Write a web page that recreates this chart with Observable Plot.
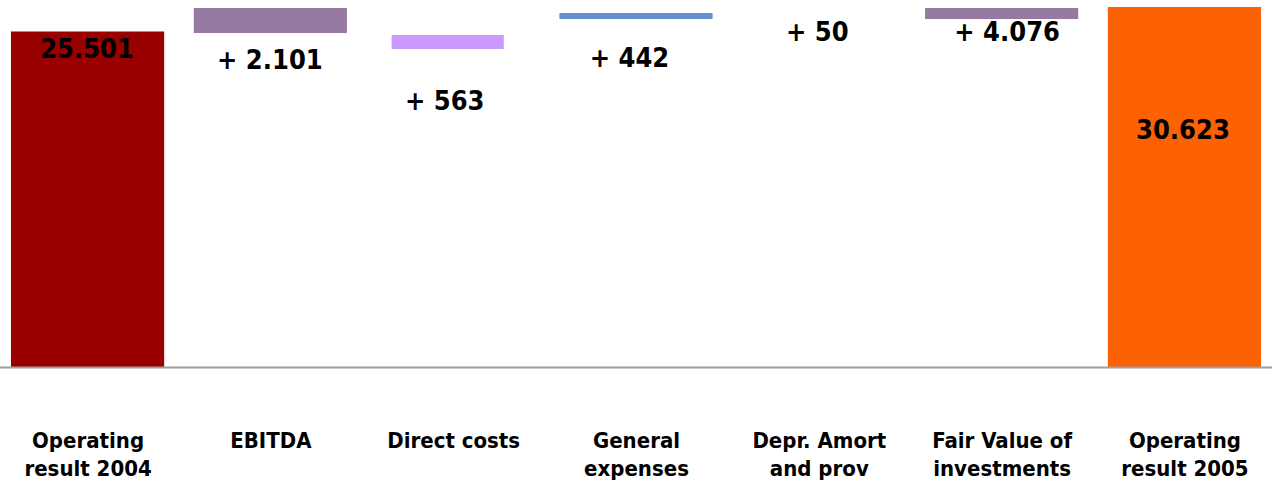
<!DOCTYPE html>
<html>
<head>
<meta charset="utf-8">
<script src="https://cdn.jsdelivr.net/npm/d3@7"></script>
<script src="https://cdn.jsdelivr.net/npm/@observablehq/plot@0.6"></script>
<style>
  html, body { margin: 0; padding: 0; background: #fff; }
  #chart svg { display: block; }
</style>
</head>
<body>
<div id="chart"></div>
<script>
// ---- data ----
const categories = ["Operating result 2004", "EBITDA", "Direct costs", "General expenses", "Depr. Amort and prov", "Fair Value of investments", "Operating result 2005"];
const tickLabels = ["Operating\nresult 2004", "EBITDA", "Direct costs", "General\nexpenses", "Depr. Amort\nand prov", "Fair Value of\ninvestments", "Operating\nresult 2005"];
const barStart = [0, 28410, 27050, 29600, null, 29600, 0];
const barEnd = [28540, 30540, 28240, 30110, null, 30540, 30623];
const valueLabels = ["25.501", "+ 2.101", "+ 563", "+ 442", "+ 50", "+ 4.076", "30.623"];

// ---- rendering ----
const rows = categories.map((c, i) => ({cat: c, start: barStart[i], end: barEnd[i], label: valueLabels[i], tick: tickLabels[i]}));
const colors = ["#990000", "#967AA1", "#CC99FF", "#6690CC", "#967AA1", "#967AA1", "#FC6204"];
const labelDy = [42, 53, 94, 51, 25, 25, 123];
const labelDx = [-1, -1, -9, -7, -2, 5, -2];
const font = "'DejaVu Sans Condensed', 'DejaVu Sans', sans-serif";

const withBars = rows.filter(d => d.start != null && d.end != null);
const normalBars = withBars.filter(d => d.cat !== "Direct costs");
const narrowBars = withBars.filter(d => d.cat === "Direct costs");

const textMarks = rows.map((d, i) => Plot.text([d], {
  x: "cat", text: "label", frameAnchor: "top", lineAnchor: "middle",
  dy: labelDy[i], dx: labelDx[i], fontSize: 27, fontWeight: "bold", fill: "#000",
  fontFamily: font
}));

const chart = Plot.plot({
  width: 1272,
  height: 484,
  marginTop: 7,
  marginBottom: 117,
  marginLeft: 0,
  marginRight: 0,
  style: {fontFamily: font, fontWeight: "bold", background: "#fff", color: "#000", fontStretch: "condensed"},
  x: {domain: categories, paddingInner: 0.162, paddingOuter: 0.06, round: false, label: null},
  y: {domain: [0, 30623], axis: null},
  color: {domain: categories, range: colors},
  marks: [
    Plot.barY(normalBars, {x: "cat", y1: "start", y2: "end", fill: "cat"}),
    Plot.barY(narrowBars, {x: "cat", y1: "start", y2: "end", fill: "cat", insetLeft: 15, insetRight: 26}),
    Plot.ruleY([0], {stroke: "#a0a0a0", strokeWidth: 2}),
    Plot.axisX({
      tickSize: 0, tickPadding: 61, label: null,
      tickFormat: d => tickLabels[categories.indexOf(d)],
      fontSize: 22, fontWeight: "bold", lineHeight: 1.27, fontFamily: font, fill: "#000"
    }),
    ...textMarks
  ]
});
document.getElementById("chart").appendChild(chart);
</script>
</body>
</html>
